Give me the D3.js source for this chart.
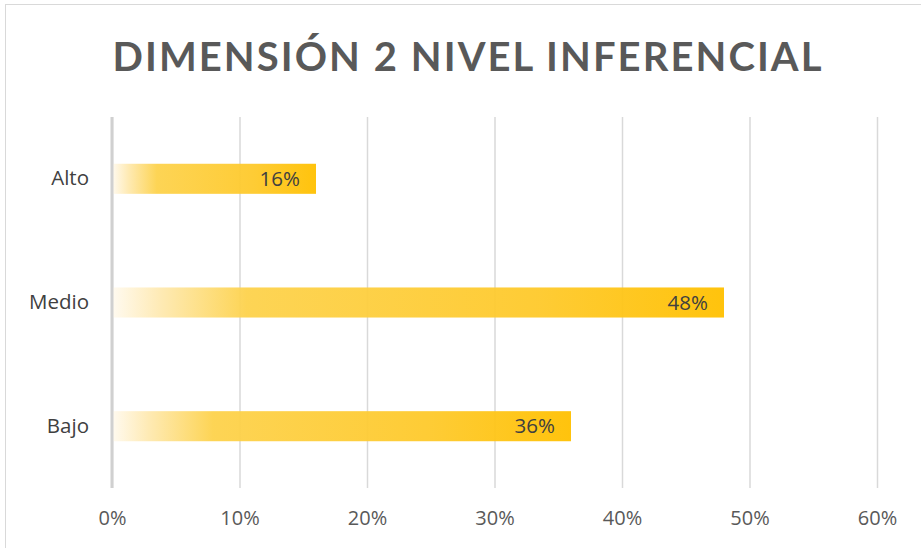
<!DOCTYPE html>
<html><head><meta charset="utf-8">
<script src="https://cdn.jsdelivr.net/npm/d3@7"></script>
<style>body{margin:0;background:#fff}svg{display:block}</style>
</head><body>
<script>
const categories = ["Alto", "Medio", "Bajo"];
const values = [0.16, 0.48, 0.36];
const tickValues = [0, 0.1, 0.2, 0.3, 0.4, 0.5, 0.6];
const title = "DIMENSIÓN 2 NIVEL INFERENCIAL";

const W = 921, H = 548;
const svg = d3.select("body").append("svg").attr("width", W).attr("height", H);

// chart frame
svg.append("rect").attr("x", 5.5).attr("y", 4.5).attr("width", W + 10).attr("height", H + 10)
  .attr("fill", "#fff").attr("stroke", "#d9d9d9").attr("stroke-width", 1);

const x = d3.scaleLinear().domain([0, 0.6]).range([112, 877]);
const y = d3.scaleBand().domain(categories).range([117, 488]).paddingInner(0.757).paddingOuter(0.378);

const defs = svg.append("defs");
const grad = defs.append("linearGradient").attr("id", "g").attr("x1", 0).attr("x2", 1).attr("y1", 0).attr("y2", 0);
grad.append("stop").attr("offset", 0).attr("stop-color", "#fffaf0");
grad.append("stop").attr("offset", 0.08).attr("stop-color", "#fee9b0");
grad.append("stop").attr("offset", 0.22).attr("stop-color", "#fdd24c");
grad.append("stop").attr("offset", 0.7).attr("stop-color", "#fec92a");
grad.append("stop").attr("offset", 1).attr("stop-color", "#ffc000");

const font = "'Open Sans', sans-serif";

// gridlines
const xAxis = d3.axisBottom(x).tickValues(tickValues).tickFormat(d3.format(".0%")).tickSize(-(488 - 117)).tickPadding(20);
const ga = svg.append("g").attr("transform", "translate(0,488)").call(xAxis);
ga.select(".domain").remove();
ga.selectAll(".tick line").attr("stroke", "#d9d9d9").attr("stroke-width", 1.5);
ga.selectAll(".tick text").attr("fill", "#595959").attr("font-family", font).attr("font-size", 20).attr("dy", "0.85em");

// bars
svg.append("g").selectAll("rect").data(values).join("rect")
  .attr("x", x(0)).attr("y", (d, i) => y(categories[i]))
  .attr("width", d => x(d) - x(0)).attr("height", y.bandwidth())
  .attr("fill", "url(#g)").attr("opacity", 0.95);

// axis line at 0
svg.append("line").attr("x1", x(0)).attr("x2", x(0)).attr("y1", 117).attr("y2", 488)
  .attr("stroke", "#d0d0d0").attr("stroke-width", 3);

// category labels
const yAxis = d3.axisLeft(y).tickSize(0).tickPadding(23);
const gy = svg.append("g").attr("transform", `translate(${x(0)},0)`).call(yAxis);
gy.select(".domain").remove();
gy.selectAll(".tick text").attr("fill", "#404040").attr("font-family", font).attr("font-size", 20.5);

// value labels
svg.append("g").selectAll("text").data(values).join("text")
  .attr("x", d => x(d) - 16).attr("y", (d, i) => y(categories[i]) + y.bandwidth() / 2)
  .attr("dy", "0.35em").attr("text-anchor", "end")
  .attr("fill", "#404040").attr("font-family", font).attr("font-size", 20.5)
  .text(d => d3.format(".0%")(d));

// title
svg.append("text").attr("x", 467).attr("y", 71).attr("text-anchor", "middle")
  .attr("fill", "#595959").attr("font-family", "Lato, sans-serif").attr("font-weight", "bold")
  .attr("font-size", 40).attr("textLength", 709).attr("lengthAdjust", "spacing")
  .text(title);
</script>
</body></html>
